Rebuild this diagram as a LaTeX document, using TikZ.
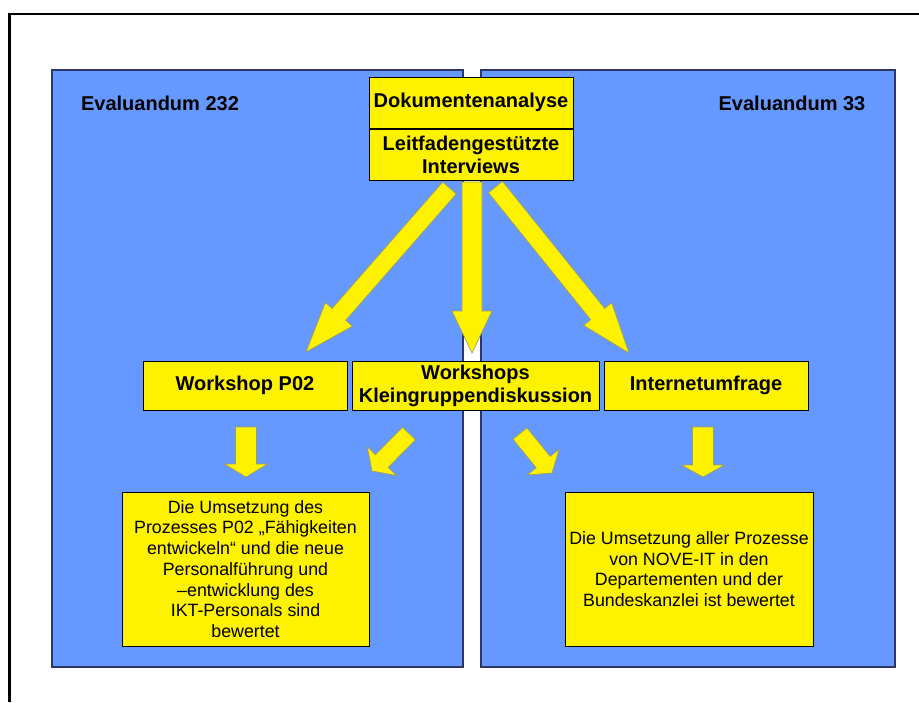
\documentclass[tikz,border=0pt]{standalone}
\usepackage{fontspec}
\setmainfont{Liberation Sans}
\usepackage{xcolor}
\usetikzlibrary{arrows.meta, positioning, calc}

\definecolor{panelblue}{RGB}{102,153,255}
\definecolor{panelline}{RGB}{45,55,100}
\definecolor{arrowline}{RGB}{160,160,90}

% #1 shaft half width, #2 head half width, #3 head length, #4 tail, #5 tip
\newcommand\blockarrow[5]{%
\coordinate (ba-base) at ($(#5)!#3pt!(#4)$);
\filldraw[bigarrow] ($(#4)!#1pt!90:(#5)$) -- ($(ba-base)!#1pt!-90:(#4)$)
  -- ($(ba-base)!#2pt!-90:(#4)$) -- (#5) -- ($(ba-base)!#2pt!90:(#4)$)
  -- ($(ba-base)!#1pt!90:(#4)$) -- ($(#4)!#1pt!-90:(#5)$) -- cycle;
}

\begin{document}
\begin{tikzpicture}[
x=1pt,
y=-1pt,
panel/.style={
rectangle,
draw=panelline,
line width=1.5pt,
fill=panelblue,
minimum height=597pt
},
box/.style={
rectangle,
draw,
line width=1pt,
fill=yellow,
inner sep=2pt,
align=center,
font=\fontsize{20}{23}\selectfont\bfseries
},
result/.style={
box,
minimum width=247pt,
minimum height=154pt,
font=\fontsize{17.8}{20.7}\selectfont
},
title/.style={
font=\fontsize{20}{23}\selectfont\bfseries
},
bigarrow/.style={
fill=yellow,
draw=arrowline,
line width=0.7pt
}
]

\useasboundingbox (0,0) rectangle (919,702);

% outer frame
\draw[line width=2.7pt] (9.5,702) -- (9.5,14) -- (919,14);

% the two evaluation objects
\node[panel, minimum width=411pt] (panelL) at (257.5,368.5) {};
\node[panel, minimum width=414pt] (panelR) at (688,368.5) {};

\node[title] (evalL) at (160,103) {Evaluandum 232};
\node[title] (evalR) at (792,103) {Evaluandum 33};

% methods
\node[box, minimum width=204pt, minimum height=51pt] (docs) at (471,102.5)
{Dokumentenanalyse};
\node[box, minimum width=204pt, minimum height=51pt, below=0pt of docs] (interviews)
{Leitfadengestützte\\Interviews};

\node[box, minimum width=204pt, minimum height=49pt] (wsP02) at (245,385.5)
{Workshop P02};
\node[box, minimum width=247pt, minimum height=49pt, right=4pt of wsP02] (wsGroups)
{Workshops\\Kleingruppendiskussion};
\node[box, minimum width=204pt, minimum height=49pt, right=4pt of wsGroups] (survey)
{Internetumfrage};

% results
\node[result] (resultL) at (245.5,569)
{Die Umsetzung des\\
Prozesses P02 „Fähigkeiten\\
entwickeln“ und die neue\\
Personalführung und\\
–entwicklung des\\
IKT-Personals sind\\
bewertet};
\node[result, minimum width=248pt] (resultR) at (689,569)
{Die Umsetzung aller Prozesse\\
von NOVE-IT in den\\
Departementen und der\\
Bundeskanzlei ist bewertet};

% arrow ends
\coordinate (leftTail) at (449.5,188);
\coordinate (leftTip) at (306,352);
\coordinate (midTail) at (472,182);
\coordinate (midTip) at (472,353);
\coordinate (rightTail) at (495.5,187);
\coordinate (rightTip) at (629,353);

\coordinate (p02Tail) at (246,427);
\coordinate (p02Tip) at (246,477);
\coordinate (grpLTail) at (409,433.5);
\coordinate (grpLTip) at (372,471);
\coordinate (grpRTail) at (520,433.5);
\coordinate (grpRTip) at (552,473);
\coordinate (surveyTail) at (703,427);
\coordinate (surveyTip) at (703,477);

\blockarrow{9}{18}{50}{leftTail}{leftTip}
\blockarrow{10}{20}{42}{midTail}{midTip}
\blockarrow{9}{18}{50}{rightTail}{rightTip}

\blockarrow{10.5}{21.5}{13}{p02Tail}{p02Tip}
\blockarrow{9}{20.5}{14}{grpLTail}{grpLTip}
\blockarrow{9}{20.5}{14}{grpRTail}{grpRTip}
\blockarrow{10.5}{21.5}{12}{surveyTail}{surveyTip}

\end{tikzpicture}
\end{document}
